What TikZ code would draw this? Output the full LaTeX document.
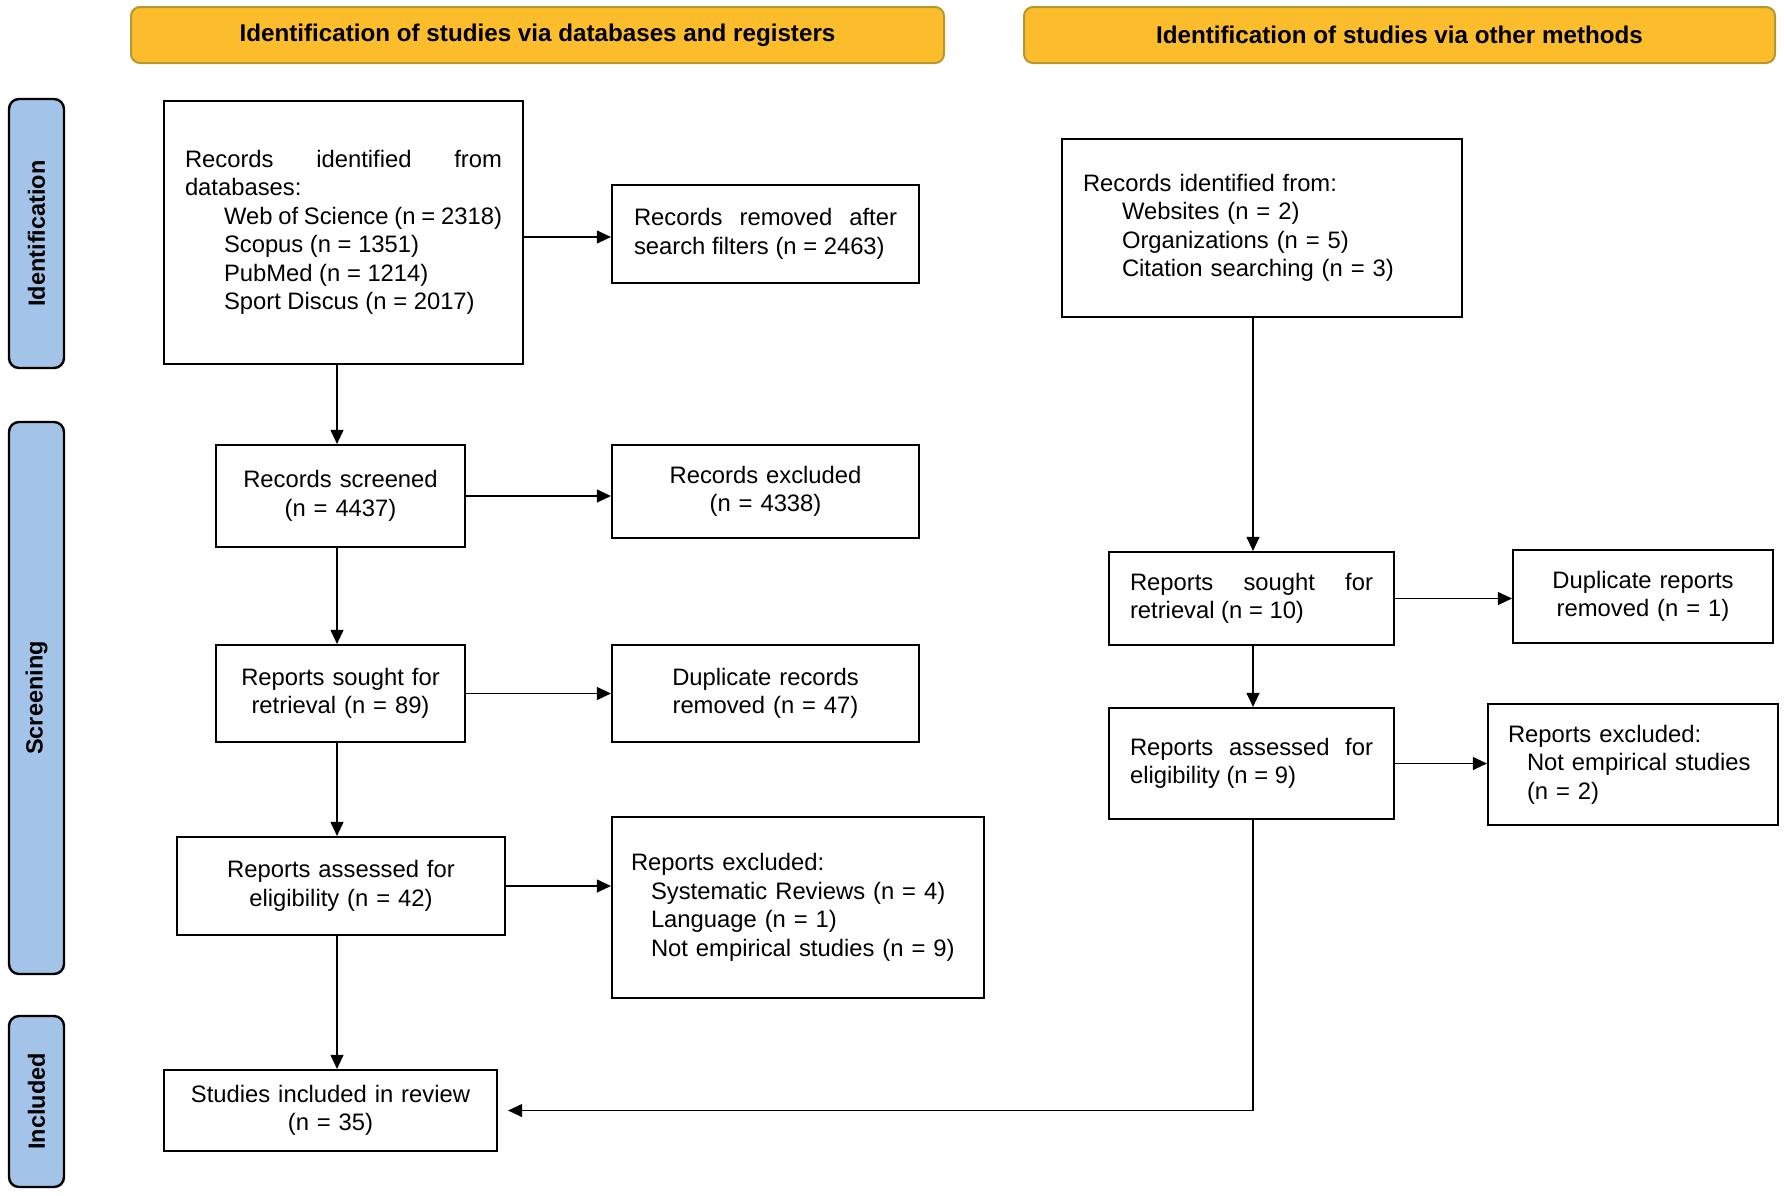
\documentclass[tikz,border=0pt]{standalone}
\usepackage{fontspec}
\setmainfont{Liberation Sans}
\usetikzlibrary{arrows.meta}
\definecolor{hdrfill}{HTML}{FBBD2B}
\definecolor{hdrborder}{HTML}{B8962E}
\definecolor{pillfill}{HTML}{A3C4E8}
\newcommand\fs{\fontsize{23.8}{28.5}\selectfont}
\newcommand\fh{\fontsize{24.2}{28}\selectfont\bfseries}
\newcommand\fp{\fontsize{23.5}{28}\selectfont\bfseries}
\begin{document}
\begin{tikzpicture}[x=1pt,y=-1pt,
  box/.style={draw=black, line width=2.2pt, rectangle, inner sep=0pt, font=\fs, anchor=center},
  conn/.style={line width=1.1pt, -{Triangle[width=13pt,length=14pt]}},
  hdr/.style={draw=hdrborder, fill=hdrfill, rounded corners=9pt, line width=2pt, font=\fh, inner sep=0pt},
  pill/.style={draw=black, fill=pillfill, rounded corners=10pt, line width=2.4pt, font=\fp, inner sep=0pt, rotate=90}]
\useasboundingbox (0,0) rectangle (1784,1195);
\coordinate (colL) at (337,0);
\coordinate (colR) at (1253,0);
% headers
\node[hdr, minimum width=813pt, minimum height=56pt] (hL) at (537.5,35) {Identification of studies via databases and registers};
\node[hdr, minimum width=751pt, minimum height=56pt] (hR) at (1399.5,35) {Identification of studies via other methods};
% side pills
\node[pill, minimum width=269pt, minimum height=55pt] (pI) at (36.5,233.5) {Identification};
\node[pill, minimum width=552pt, minimum height=55pt] (pS) at (36.5,698) {Screening};
\node[pill, minimum width=171pt, minimum height=55pt] (pN) at (36.5,1101.5) {Included};
% left column
\node[box, minimum width=359pt, minimum height=263pt, text width=317pt, align=justify] (b1) at (343.5,232.5)
  {Records identified from\linebreak databases:\\\hspace*{39pt}Web of Science (n = 2318)\\\hspace*{39pt}Scopus (n = 1351)\\\hspace*{39pt}PubMed (n = 1214)\\\hspace*{39pt}Sport Discus (n = 2017)};
\node[box, minimum width=307pt, minimum height=98pt, text width=263pt, align=justify] (rem) at (765.5,234)
  {Records removed after\linebreak search filters (n = 2463)};
\node[box, minimum width=249pt, minimum height=102pt, text width=230pt, align=center] (scr) at (340.5,496)
  {Records screened\\(n = 4437)};
\node[box, minimum width=307pt, minimum height=93pt, text width=280pt, align=center] (exc) at (765.5,491.5)
  {Records excluded\\(n = 4338)};
\node[box, minimum width=249pt, minimum height=97pt, text width=230pt, align=center] (sgt) at (340.5,693.5)
  {Reports sought for\\retrieval (n = 89)};
\node[box, minimum width=307pt, minimum height=97pt, text width=280pt, align=center] (dup) at (765.5,693.5)
  {Duplicate records\\removed (n = 47)};
\node[box, minimum width=328pt, minimum height=98pt, text width=300pt, align=center] (ass) at (341,886)
  {Reports assessed for\\eligibility (n = 42)};
\node[box, minimum width=372pt, minimum height=181pt, text width=334pt, align=left] (rex) at (798,907.5)
  {Reports excluded:\\\hspace*{20pt}Systematic Reviews (n = 4)\\\hspace*{20pt}Language (n = 1)\\\hspace*{20pt}Not empirical studies (n = 9)};
\node[box, minimum width=333pt, minimum height=81pt, text width=310pt, align=center] (inc) at (330.5,1110.5)
  {Studies included in review\\(n = 35)};
% right column
\node[box, minimum width=400pt, minimum height=178pt, text width=358pt, align=left] (r1) at (1262,228)
  {Records identified from:\\\hspace*{39pt}Websites (n = 2)\\\hspace*{39pt}Organizations (n = 5)\\\hspace*{39pt}Citation searching (n = 3)};
\node[box, minimum width=285pt, minimum height=93pt, text width=243pt, align=justify] (sgtR) at (1251.5,598.5)
  {Reports sought for\linebreak retrieval (n = 10)};
\node[box, minimum width=260pt, minimum height=93pt, text width=240pt, align=center] (dupR) at (1643,596.5)
  {Duplicate reports\\removed (n = 1)};
\node[box, minimum width=285pt, minimum height=111pt, text width=243pt, align=justify] (assR) at (1251.5,763.5)
  {Reports assessed for\linebreak eligibility (n = 9)};
\node[box, minimum width=290pt, minimum height=121pt, text width=250pt, align=left] (rexR) at (1633,764.5)
  {Reports excluded:\\\hspace*{19pt}Not empirical studies\\\hspace*{19pt}(n = 2)};
% connectors
\draw[conn] (b1.south -| colL) -- (scr.north -| colL);
\draw[conn] (scr.south -| colL) -- (sgt.north -| colL);
\draw[conn] (sgt.south -| colL) -- (ass.north -| colL);
\draw[conn] (ass.south -| colL) -- (inc.north -| colL);
\draw[conn] ([yshift=-4.5pt]b1.east) -- ([yshift=-4.5pt]b1.east -| rem.west);
\draw[conn] (scr.east) -- (scr.east -| exc.west);
\draw[conn] (sgt.east) -- (sgt.east -| dup.west);
\draw[conn] (ass.east) -- (ass.east -| rex.west);
\draw[conn] (r1.south -| colR) -- (sgtR.north -| colR);
\draw[conn] (sgtR.south -| colR) -- (assR.north -| colR);
\draw[conn] (sgtR.east) -- (sgtR.east -| dupR.west);
\draw[conn] (assR.east) -- (assR.east -| rexR.west);
\draw[conn] (assR.south -| colR) |- ([xshift=10pt]inc.east);
\end{tikzpicture}
\end{document}
